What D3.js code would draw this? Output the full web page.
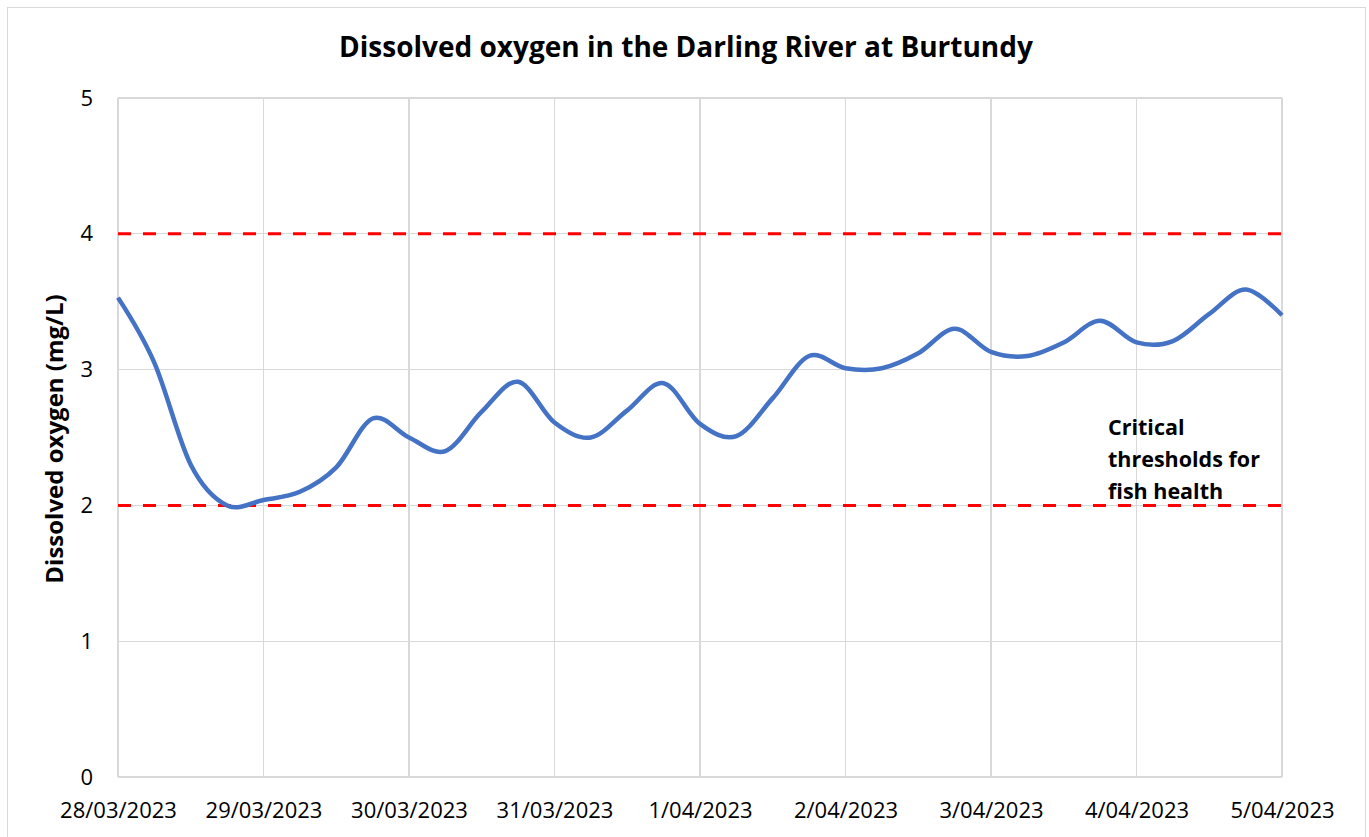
<!DOCTYPE html>
<meta charset="utf-8">
<style>
body { margin: 0; background: #fff; }
svg { font-family: "Open Sans", "Noto Sans", sans-serif; }
.grid line { stroke: #d9d9d9; stroke-width: 1.3px; shape-rendering: crispEdges; }
.axis path, .axis line { display: none; }
.axis text { font-family: "Open Sans", "Noto Sans", sans-serif; font-size: 22px; fill: #000; }
.do-line { fill: none; stroke: #4472c4; stroke-width: 4.5px; }
.threshold { stroke: #ff0000; stroke-width: 3px; stroke-dasharray: 13 12; }
</style>
<body>
<div id="chart"></div>
<script src="https://d3js.org/d3.v7.min.js"></script>
<script>
// readings every 6 hours, days since 28/03/2023
var days = [0, 0.25, 0.5, 0.75, 1, 1.25, 1.5, 1.75, 2, 2.25, 2.5, 2.75, 3, 3.25, 3.5, 3.75,
    4, 4.25, 4.5, 4.75, 5, 5.25, 5.5, 5.75, 6, 6.25, 6.5, 6.75, 7, 7.25, 7.5, 7.75, 8];
var oxygen = [3.53, 3.05, 2.30, 2.00, 2.04, 2.10, 2.28, 2.64, 2.50, 2.40, 2.69, 2.91, 2.61, 2.50, 2.70, 2.90,
    2.60, 2.51, 2.79, 3.10, 3.01, 3.01, 3.12, 3.30, 3.13, 3.10, 3.20, 3.36, 3.20, 3.21, 3.41, 3.59, 3.40];
var dateLabels = ["28/03/2023", "29/03/2023", "30/03/2023", "31/03/2023", "1/04/2023",
    "2/04/2023", "3/04/2023", "4/04/2023", "5/04/2023"];
var yTicks = [0, 1, 2, 3, 4, 5];
var thresholds = [2, 4];

var W = 1369, H = 837;
var margin = { top: 98, right: 87, bottom: 60, left: 118 };
var width = W - margin.left - margin.right,
    height = H - margin.top - margin.bottom;

var svg = d3.select("#chart").append("svg")
    .attr("width", W)
    .attr("height", H);

svg.append("rect")
    .attr("x", 7.5).attr("y", 7.5)
    .attr("width", 1358).attr("height", H)
    .attr("fill", "#fff")
    .attr("stroke", "#d9d9d9");

var g = svg.append("g")
    .attr("transform", "translate(" + margin.left + "," + margin.top + ")");

var x = d3.scaleLinear().domain([0, dateLabels.length - 1]).range([0, width]);
var y = d3.scaleLinear().domain([0, 5]).range([height, 0]);

// gridlines
g.append("g").attr("class", "grid")
    .selectAll("line").data(yTicks).enter().append("line")
    .attr("x1", 0).attr("x2", width)
    .attr("y1", function(d) { return y(d); })
    .attr("y2", function(d) { return y(d); });
g.append("g").attr("class", "grid")
    .selectAll("line").data(d3.range(dateLabels.length)).enter().append("line")
    .attr("y1", 0).attr("y2", height)
    .attr("x1", function(d) { return x(d); })
    .attr("x2", function(d) { return x(d); });

// axes
g.append("g")
    .attr("class", "axis axis--x")
    .attr("transform", "translate(0," + height + ")")
    .call(d3.axisBottom(x).tickValues(d3.range(dateLabels.length))
        .tickFormat(function(d) { return dateLabels[d]; }).tickSize(0).tickPadding(25));
g.append("g")
    .attr("class", "axis axis--y")
    .call(d3.axisLeft(y).tickValues(yTicks).tickFormat(d3.format("d")).tickSize(0).tickPadding(25));

// threshold lines
g.selectAll(".threshold").data(thresholds).enter().append("line")
    .attr("class", "threshold")
    .attr("x1", 0).attr("x2", width)
    .attr("y1", function(d) { return y(d); })
    .attr("y2", function(d) { return y(d); });

// data line
var line = d3.line()
    .x(function(d, i) { return x(days[i]); })
    .y(function(d) { return y(d); })
    .curve(d3.curveCardinal.tension(0));
g.append("path")
    .datum(oxygen)
    .attr("class", "do-line")
    .attr("d", line);

// title
svg.append("text")
    .attr("x", 686).attr("y", 57)
    .attr("text-anchor", "middle")
    .style("font-size", "28px").style("font-weight", "bold")
    .text("Dissolved oxygen in the Darling River at Burtundy");

// y label
svg.append("text")
    .attr("transform", "translate(63," + 439 + ") rotate(-90)")
    .attr("text-anchor", "middle")
    .style("font-size", "24px").style("font-weight", "bold")
    .text("Dissolved oxygen (mg/L)");

// annotation
var note = svg.append("text")
    .attr("x", 1108).attr("y", 435)
    .style("font-size", "21.5px").style("font-weight", "bold");
["Critical", "thresholds for", "fish health"].forEach(function(t, i) {
    note.append("tspan").attr("x", 1108).attr("dy", i ? 32 : 0).text(t);
});
</script>
